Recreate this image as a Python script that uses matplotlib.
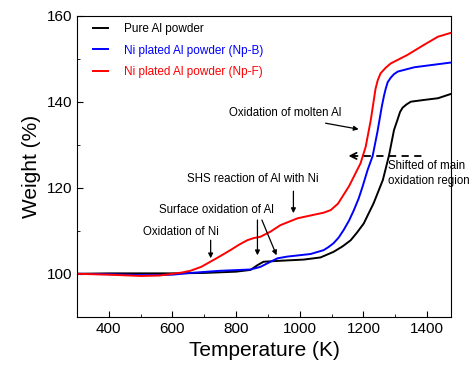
import matplotlib.pyplot as plt
from matplotlib.ticker import MultipleLocator

plt.rcParams['font.family'] = ['Liberation Sans', 'DejaVu Sans']

# TGA curves
temp_pure = [300, 400, 500, 600, 700, 800, 845, 867, 886, 930, 1012, 1065, 1106, 1135, 1160,
             1180, 1201, 1232, 1261, 1280, 1296, 1307, 1315, 1323, 1336, 1349, 1390, 1434, 1475]
weight_pure = [100, 100.1, 100.1, 100.1, 100.2, 100.5, 100.9, 102.0, 102.8, 103.0, 103.3,
               103.8, 105.1, 106.4, 107.8, 109.6, 111.7, 116.4, 121.8, 127.4, 133.4, 135.8,
               137.6, 138.6, 139.4, 140.0, 140.4, 140.8, 141.8]

temp_npb = [300, 400, 500, 550, 600, 656, 750, 845, 876, 908, 930, 961, 1034, 1075, 1090,
            1106, 1122, 1138, 1155, 1170, 1185, 1197, 1213, 1229, 1244, 1258, 1265, 1270,
            1276, 1286, 1296, 1308, 1360, 1412, 1475]
weight_npb = [100, 99.9, 99.7, 99.7, 99.8, 100.2, 100.7, 101.0, 101.6, 102.8, 103.6, 104.0,
              104.6, 105.5, 106.2, 107.1, 108.4, 110.2, 112.4, 114.8, 117.5, 120.2, 124.1,
              127.4, 133.0, 139.0, 141.5, 143.0, 144.5, 145.6, 146.4, 147.0, 148.0, 148.5,
              149.1]

temp_npf = [300, 400, 500, 560, 600, 630, 656, 690, 719, 750, 782, 810, 835, 855, 876, 908,
            939, 993, 1043, 1075, 1097, 1120, 1138, 1155, 1170, 1191, 1207, 1223, 1238, 1245,
            1254, 1270, 1286, 1310, 1339, 1390, 1434, 1475]
weight_npf = [100, 99.8, 99.5, 99.6, 100.0, 100.3, 100.7, 101.6, 102.8, 104.1, 105.5, 106.8,
              107.8, 108.3, 108.6, 109.8, 111.3, 112.9, 113.7, 114.2, 114.8, 116.3, 118.4,
              120.4, 122.6, 125.7, 129.5, 135.7, 143.0, 145.0, 146.6, 147.9, 148.9, 149.8,
              150.9, 153.2, 155.1, 156.0]

labels = ['Pure Al powder', 'Ni plated Al powder (Np-B)', 'Ni plated Al powder (Np-F)']
colors = ['black', '#0000ff', '#ff0000']

fig = plt.figure(figsize=(4.74, 3.82), dpi=100)
ax = fig.add_axes([0.1624, 0.1706, 0.789, 0.7885])

ax.plot(temp_pure, weight_pure, color=colors[0], lw=1.4, label=labels[0])
ax.plot(temp_npb, weight_npb, color=colors[1], lw=1.4, label=labels[1])
ax.plot(temp_npf, weight_npf, color=colors[2], lw=1.4, label=labels[2])

ax.set_xlim(300, 1475)
ax.set_ylim(90, 160)
ax.set_xticks([400, 600, 800, 1000, 1200, 1400])
ax.set_yticks([100, 120, 140, 160])
ax.xaxis.set_minor_locator(MultipleLocator(100))
ax.yaxis.set_minor_locator(MultipleLocator(10))
ax.tick_params(which='both', direction='in', labelsize=11)
ax.tick_params(which='major', length=4)
ax.tick_params(which='minor', length=2.5)

ax.set_xlabel('Temperature (K)', fontsize=15)
ax.set_ylabel('Weight (%)', fontsize=15)

ax.legend(loc='upper left', bbox_to_anchor=(0.043, 0.975), frameon=False, fontsize=8.5,
          handlelength=1.3, handletextpad=1.3, labelspacing=0.8, borderaxespad=0,
          borderpad=0, labelcolor='linecolor')

# annotations
fs = 8.3
arr = dict(arrowstyle='-|>', color='black', lw=0.9, mutation_scale=7, shrinkA=0, shrinkB=0)

ax.text(628, 109.7, 'Oxidation of Ni', fontsize=fs, ha='center', va='center')
ax.annotate('', xy=(720, 103.6), xytext=(720, 107.8), arrowprops=arr)

ax.text(738, 114.8, 'Surface oxidation of Al', fontsize=fs, ha='center', va='center')
ax.annotate('', xy=(867, 104.3), xytext=(867, 112.5), arrowprops=arr)
ax.annotate('', xy=(927, 104.3), xytext=(881, 112.5), arrowprops=arr)

ax.text(851, 122.0, 'SHS reaction of Al with Ni', fontsize=fs, ha='center', va='center')
ax.annotate('', xy=(980, 114.1), xytext=(980, 119.2), arrowprops=arr)

ax.text(954, 137.4, 'Oxidation of molten Al', fontsize=fs, ha='center', va='center')
ax.annotate('', xy=(1185, 133.6), xytext=(1081, 135.0), arrowprops=arr)

ax.plot([1160, 1387], [127.4, 127.4], color='black', lw=1.3, ls=(0, (4, 3)))
ax.annotate('', xy=(1153, 127.4), xytext=(1175, 127.4),
            arrowprops=dict(arrowstyle='->', color='black', lw=1.3, mutation_scale=11,
                            shrinkA=0, shrinkB=0))
ax.text(1276, 123.3, 'Shifted of main\noxidation region', fontsize=fs, ha='left',
        va='center', linespacing=1.25, clip_on=False)

fig.savefig('out.png', dpi=100)
